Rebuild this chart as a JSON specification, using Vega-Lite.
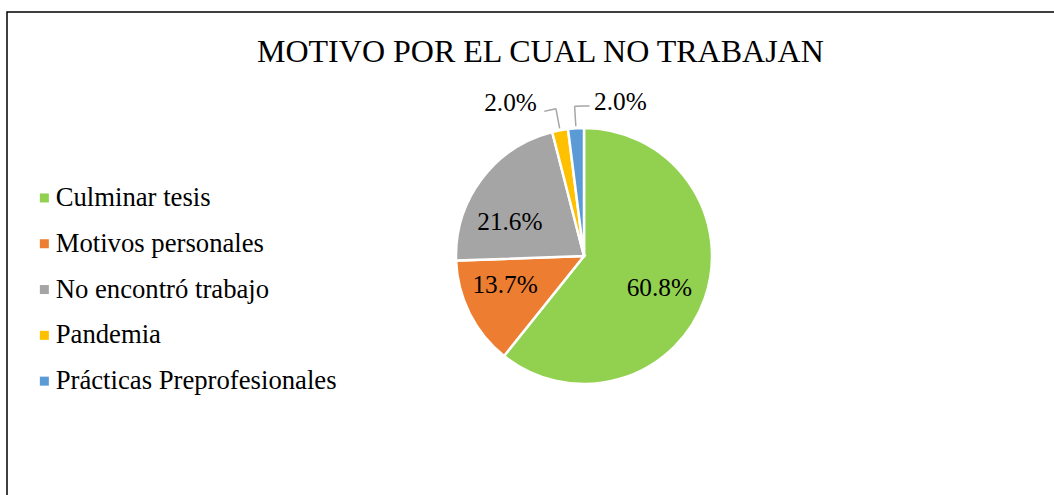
{
  "$schema": "https://vega.github.io/schema/vega-lite/v6.json",
  "width": 1154,
  "height": 488,
  "autosize": {"type": "none"},
  "padding": {"left": 7, "top": 12, "right": -107, "bottom": -5},
  "background": "white",
  "view": {"stroke": "#000000", "strokeWidth": 1.5, "fill": "white"},
  "config": {
    "view": {"stroke": "#000000", "strokeWidth": 1.5},
    "font": "Liberation Serif",
    "text": {"font": "Liberation Serif"}
  },
  "title": {
    "text": "MOTIVO POR EL CUAL NO TRABAJAN",
    "anchor": "start",
    "frame": "group",
    "dx": 250,
    "offset": -82,
    "baseline": "alphabetic",
    "fontSize": 32,
    "fontWeight": "normal",
    "font": "Liberation Serif",
    "color": "#000000"
  },
  "data": {
    "values": [
      {"motivo": "Culminar tesis", "share": 0.608},
      {"motivo": "Motivos personales", "share": 0.137},
      {"motivo": "No encontró trabajo", "share": 0.216},
      {"motivo": "Pandemia", "share": 0.02},
      {"motivo": "Prácticas Preprofesionales", "share": 0.02}
    ]
  },
  "transform": [
    {"stack": "share", "groupby": [], "sort": [{"field": "motivo", "order": "ascending"}], "as": ["t0", "t1"]},
    {"calculate": "(datum.t0 + datum.t1) / 2", "as": "tm"}
  ],
  "layer": [
    {
      "mark": {"type": "arc", "radius": 128, "stroke": "#ffffff", "strokeWidth": 2.5},
      "encoding": {
        "theta": {"field": "t0", "type": "quantitative", "scale": {"domain": [0, 1.001]}},
        "theta2": {"field": "t1"},
        "color": {
          "field": "motivo",
          "type": "nominal",
          "scale": {
            "domain": ["Culminar tesis", "Motivos personales", "No encontró trabajo", "Pandemia", "Prácticas Preprofesionales"],
            "range": ["#92D050", "#ED7D31", "#A5A5A5", "#FFC000", "#5B9BD5"]
          },
          "legend": {
            "orient": "none",
            "legendX": 24,
            "legendY": 172.6,
            "title": null,
            "symbolType": "square",
            "symbolSize": 81,
            "symbolStrokeWidth": 0,
            "labelFontSize": 26.7,
            "labelFont": "Liberation Serif",
            "labelColor": "#000000",
            "labelLimit": 400,
            "labelOffset": -2,
            "rowPadding": 17.8,
            "padding": 0
          }
        }
      }
    },
    {
      "transform": [{"filter": "datum.motivo == 'Culminar tesis'"}],
      "mark": {"type": "text", "radius": 82, "dx": -2, "dy": 4.5, "fontSize": 25.3, "font": "Liberation Serif", "color": "#000000"},
      "encoding": {
        "theta": {"field": "tm", "type": "quantitative", "scale": {"domain": [0, 1.001]}},
        "text": {"field": "share", "type": "quantitative", "format": ".1%"}
      }
    },
    {
      "transform": [{"filter": "datum.motivo == 'Motivos personales'"}],
      "mark": {"type": "text", "radius": 82, "dx": -5.6, "dy": -7.6, "fontSize": 25.3, "font": "Liberation Serif", "color": "#000000"},
      "encoding": {
        "theta": {"field": "tm", "type": "quantitative", "scale": {"domain": [0, 1.001]}},
        "text": {"field": "share", "type": "quantitative", "format": ".1%"}
      }
    },
    {
      "transform": [{"filter": "datum.motivo == 'No encontró trabajo'"}],
      "mark": {"type": "text", "radius": 82, "dx": -8.4, "dy": 15.3, "fontSize": 25.3, "font": "Liberation Serif", "color": "#000000"},
      "encoding": {
        "theta": {"field": "tm", "type": "quantitative", "scale": {"domain": [0, 1.001]}},
        "text": {"field": "share", "type": "quantitative", "format": ".1%"}
      }
    },
    {
      "transform": [{"filter": "datum.share < 0.05"}],
      "mark": {"type": "arc", "radius": 150, "radius2": 130, "fillOpacity": 0, "stroke": "#A6A6A6", "strokeWidth": 1.5},
      "encoding": {
        "theta": {"field": "tm", "type": "quantitative", "scale": {"domain": [0, 1.001]}},
        "theta2": {"field": "tm"}
      }
    },
    {
      "transform": [{"filter": "datum.motivo == 'Pandemia'"}],
      "mark": {"type": "arc", "radius": 150, "radius2": 150, "theta2Offset": -0.08, "fillOpacity": 0, "stroke": "#A6A6A6", "strokeWidth": 1.5},
      "encoding": {
        "theta": {"field": "tm", "type": "quantitative", "scale": {"domain": [0, 1.001]}},
        "theta2": {"field": "tm"}
      }
    },
    {
      "transform": [{"filter": "datum.motivo == 'Prácticas Preprofesionales'"}],
      "mark": {"type": "arc", "radius": 150, "radius2": 150, "theta2Offset": 0.1, "fillOpacity": 0, "stroke": "#A6A6A6", "strokeWidth": 1.5},
      "encoding": {
        "theta": {"field": "tm", "type": "quantitative", "scale": {"domain": [0, 1.001]}},
        "theta2": {"field": "tm"}
      }
    },
    {
      "transform": [{"filter": "datum.motivo == 'Pandemia'"}],
      "mark": {"type": "text", "radius": 150, "align": "right", "baseline": "middle", "dx": -19, "dy": -6, "fontSize": 25.3, "font": "Liberation Serif", "color": "#000000"},
      "encoding": {
        "theta": {"field": "tm", "type": "quantitative", "scale": {"domain": [0, 1.001]}},
        "text": {"field": "share", "type": "quantitative", "format": ".1%"}
      }
    },
    {
      "transform": [{"filter": "datum.motivo == 'Prácticas Preprofesionales'"}],
      "mark": {"type": "text", "radius": 150, "align": "left", "baseline": "middle", "dx": 19.5, "dy": -4, "fontSize": 25.3, "font": "Liberation Serif", "color": "#000000"},
      "encoding": {
        "theta": {"field": "tm", "type": "quantitative", "scale": {"domain": [0, 1.001]}},
        "text": {"field": "share", "type": "quantitative", "format": ".1%"}
      }
    }
  ]
}
